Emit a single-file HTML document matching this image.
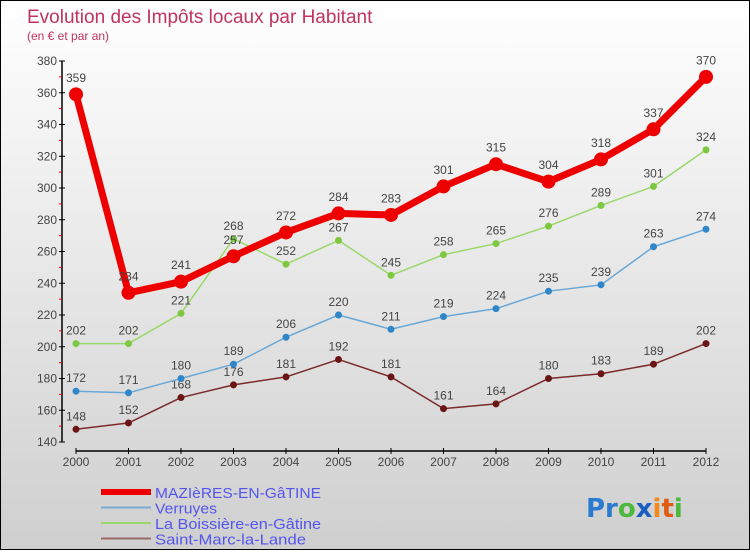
<!DOCTYPE html>
<html><head><meta charset="utf-8"><style>
html,body{margin:0;padding:0}
body{width:750px;height:550px;overflow:hidden;font-family:"Liberation Sans","DejaVu Sans",sans-serif}
#wrap{position:relative;width:748px;height:548px;border:1px solid #000;background:linear-gradient(#ffffff,#cfcfcf)}
</style></head><body>
<div id="wrap">
<svg id="chart" width="748" height="548" xmlns="http://www.w3.org/2000/svg">
<text x="26" y="22" font-size="19" fill="#c0335f">Evolution des Impôts locaux par Habitant</text>
<text x="26" y="39" font-size="12" fill="#c0335f">(en € et par an)</text>
<g id="axes"></g>
<g id="series"></g>
<g id="legend"></g>
<text x="585" y="516" font-size="26" font-weight="bold" font-family="'DejaVu Sans',sans-serif"><tspan fill="#2a7bd0">Pr</tspan><tspan fill="#4cb83c">o</tspan><tspan fill="#1a5fc0">x</tspan><tspan fill="#f08a1a">i</tspan><tspan fill="#e05a10">t</tspan><tspan fill="#4cb83c">i</tspan></text>
</svg>
</div>
<script>
const years=[2000,2001,2002,2003,2004,2005,2006,2007,2008,2009,2010,2011,2012];
const mazieres=[359,234,241,257,272,284,283,301,315,304,318,337,370];
const verruyes=[172,171,180,189,206,220,211,219,224,235,239,263,274];
const boissiere=[202,202,221,268,252,267,245,258,265,276,289,301,324];
const saintMarc=[148,152,168,176,181,192,181,161,164,180,183,189,202];
const yTicks=[140,160,180,200,220,240,260,280,300,320,340,360,380];
const NS="http://www.w3.org/2000/svg";
const xS=i=>75+i*52.5;
const yS=v=>441-(v-140)*(381/240);
function mk(tag,attrs,parent){const e=document.createElementNS(NS,tag);for(const k in attrs)e.setAttribute(k,attrs[k]);parent.appendChild(e);return e;}
const axes=document.getElementById('axes');
let yl=mk('line',{x1:61,y1:yS(380),x2:61,y2:yS(140),stroke:'#000','stroke-width':1.5},axes);


let xl=mk('line',{x1:xS(0),y1:450,x2:xS(12),y2:450,stroke:'#000','stroke-width':1.5},axes);


yTicks.forEach((t,i)=>{
  const y=yS(t);
  mk('line',{x1:58,y1:y,x2:64,y2:y,stroke:'#000'},axes);
  const tx=mk('text',{x:56,y:y+4,'font-size':12,'text-anchor':'end',fill:'#444'},axes);
  tx.textContent=t;
  
  
  if(i<yTicks.length-1){const m=yS(t+10);mk('line',{x1:58,y1:m,x2:61,y2:m,stroke:'#f00'},axes);}
});
years.forEach((yr,i)=>{
  const x=xS(i);
  mk('line',{x1:x,y1:447,x2:x,y2:453,stroke:'#000'},axes);
  const tx=mk('text',{x:x,y:465,'font-size':12,'text-anchor':'middle',fill:'#444'},axes);
  tx.textContent=yr;
  
  
});
const ser=document.getElementById('series');
function drawSeries(vals,color,dot,w,r,name){
  const g=mk('g',{},ser);
  
  
  mk('polyline',{points:vals.map((v,i)=>xS(i)+','+yS(v)).join(' '),fill:'none',stroke:color,'stroke-width':w,'stroke-linejoin':'round'},g);
  vals.forEach((v,i)=>{
    const c=mk('circle',{cx:xS(i),cy:yS(v),r:r,fill:dot,stroke:dot},g);
    
    
    const t=mk('text',{x:xS(i),y:yS(v)-(r+6),'font-size':12,'text-anchor':'middle',fill:'#444'},g);
    t.textContent=v;
    
    
  });
}
drawSeries(saintMarc,'#7a2a2a','#6b1515',1.5,3,'saint-marc-series');
drawSeries(verruyes,'#6aa8d8','#2f86c8',1.5,3,'verruyes-series');
drawSeries(boissiere,'#9ad86a','#7cc840',1.5,3,'boissiere-series');
drawSeries(mazieres,'#ee0000','#ee0000',7,6.5,'mazieres-series');
const lg=document.getElementById('legend');
const items=[['MAZIèRES-EN-GâTINE','#ee0000',6],['Verruyes','#7aaad0',2],['La Boissière-en-Gâtine','#9ad86a',2],['Saint-Marc-la-Lande','#9a6a6a',2]];
items.forEach((it,i)=>{
  const y=491+i*15.5;
  const g=mk('g',{},lg);
  
  
  mk('line',{x1:100,y1:y,x2:150,y2:y,stroke:it[1],'stroke-width':it[2]},g);
  const t=mk('text',{x:154,y:y+6,'font-size':15,fill:'#5555ee',textLength:(i==0?166:(i==1?62:(i==2?166:151))),lengthAdjust:'spacingAndGlyphs'},g);
  t.textContent=it[0];
});
</script>
</body></html>
